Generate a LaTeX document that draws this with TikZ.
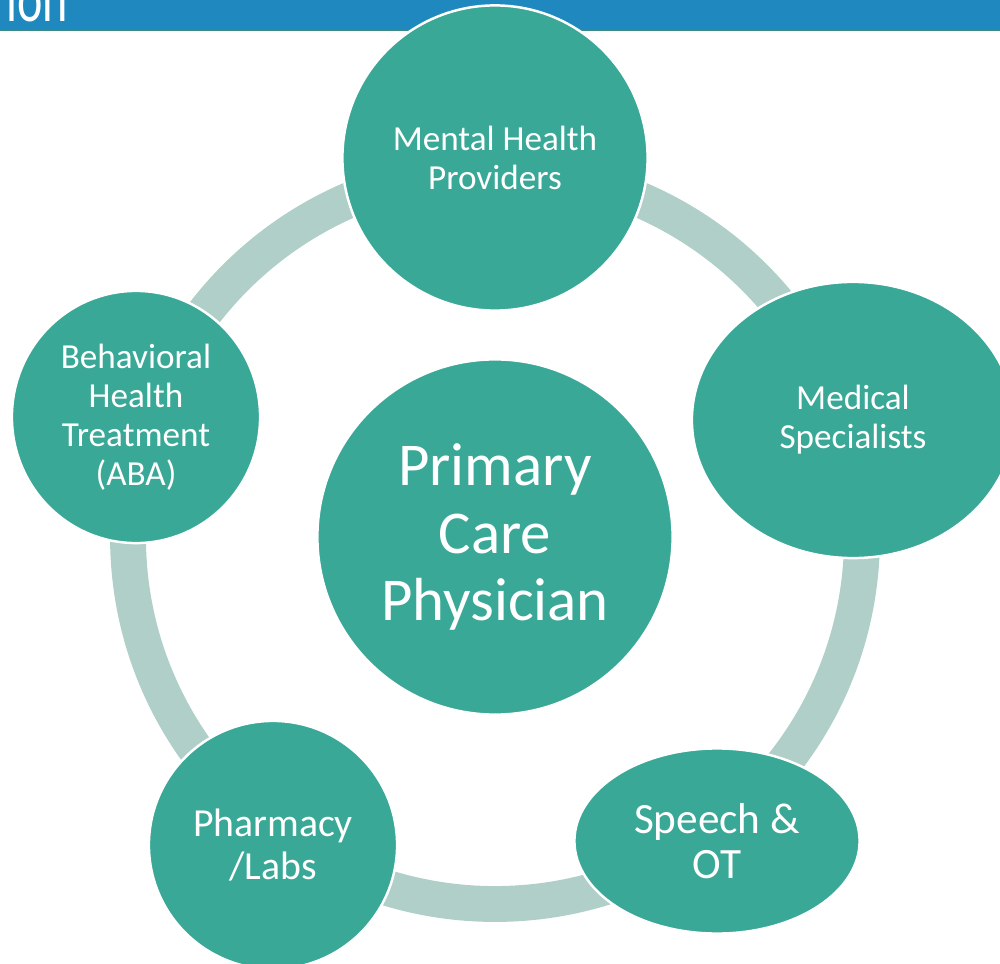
\documentclass[tikz,border=0pt]{standalone}
\usepackage{fontspec}
\setmainfont{Carlito}
\usetikzlibrary{shapes.geometric}
\definecolor{banner}{HTML}{1F89BF}
\definecolor{bannerline}{HTML}{3B8A82}
\definecolor{tealfill}{HTML}{39A897}
\definecolor{ringcol}{HTML}{AFCFC8}
\tikzset{
  bubble/.style={ellipse, fill=tealfill, draw=white, line width=0.7pt,
    inner sep=0pt, align=center, text=white},
  small/.style={font=\fontsize{10}{11.1}\selectfont},
  mid/.style={font=\fontsize{12.3}{12.8}\selectfont},
  midb/.style={font=\fontsize{11.3}{12.2}\selectfont},
  big/.style={font=\fontsize{17.3}{19.2}\selectfont},
}
\begin{document}
\begin{tikzpicture}[x=0.01cm, y=-0.01cm]
  \useasboundingbox[clip] (0,0) rectangle (1000,964);
  % header strip
  \fill[banner] (0,0) rectangle (1000,29);
  \fill[bannerline] (0,29) rectangle (1000,31.5);
  \node[anchor=base west, inner sep=0pt, text=white, xscale=0.72,
        font=\fontsize{19}{19}\selectfont] (title) at (6,22) {ion};
  % cycle ring
  \coordinate (hub) at (495,537);
  \draw[ringcol, line width=10.2pt] (hub) circle[radius=367];
  % outer bubbles
  \node[bubble, small, minimum width=3.05cm, minimum height=3.05cm] (mh) at (495,158)
    {Mental Health\\Providers};
  \node[bubble, small, minimum width=3.22cm, minimum height=2.76cm] (ms) at (853,420)
    {Medical\\Specialists};
  \node[bubble, mid, minimum width=2.85cm, minimum height=1.85cm] (so) at (717,841)
    {Speech \&\\OT};
  \node[bubble, midb, minimum width=2.48cm, minimum height=2.48cm] (pl) at (273,845)
    {Pharmacy\\/Labs};
  \node[bubble, small, minimum width=2.48cm, minimum height=2.52cm] (bh) at (136,417)
    {Behavioral\\Health\\Treatment\\(ABA)};
  % centre bubble
  \node[bubble, big, minimum width=3.55cm, minimum height=3.55cm] (pcp) at (hub)
    {Primary\\Care\\Physician};
\end{tikzpicture}
\end{document}
